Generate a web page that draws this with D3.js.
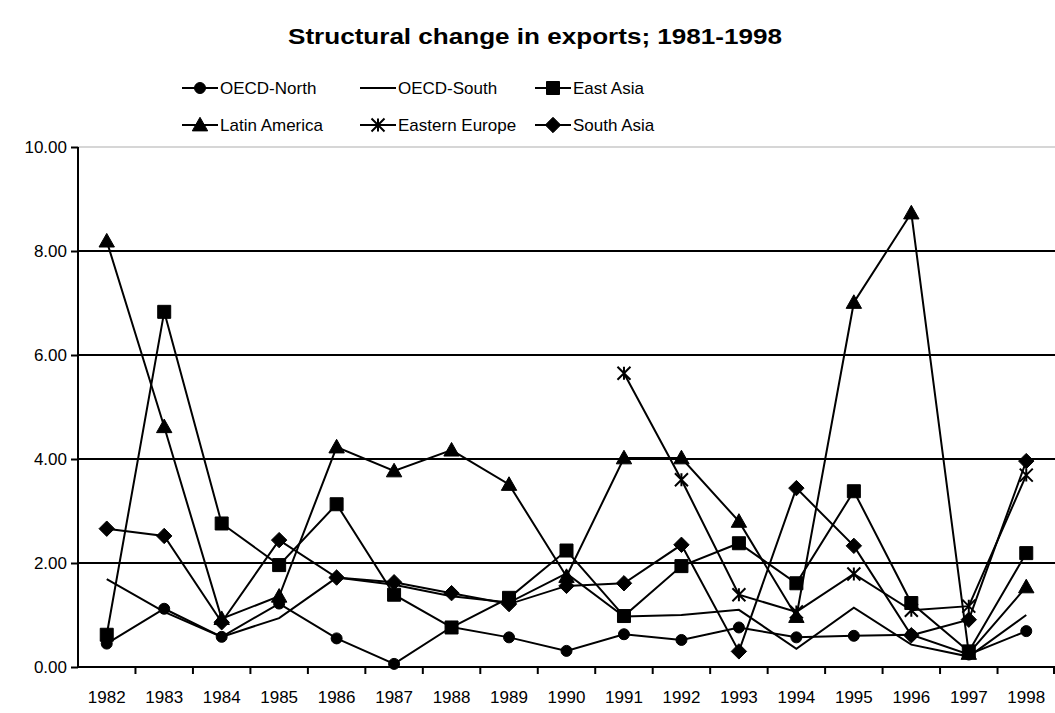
<!DOCTYPE html>
<html>
<head>
<meta charset="utf-8">
<script src="https://cdn.jsdelivr.net/npm/d3@7"></script>
<style>
  body { margin: 0; background: #fff; }
  text { font-family: "Liberation Sans", Arial, sans-serif; fill: #000; }
</style>
</head>
<body>
<div id="chart"></div>
<script>
// data
var years = ["1982","1983","1984","1985","1986","1987","1988","1989","1990",
             "1991","1992","1993","1994","1995","1996","1997","1998"];
var oecdNorth = [0.45,1.12,0.58,1.22,0.55,0.06,0.77,0.57,0.31,0.63,0.52,0.76,0.57,0.60,0.62,0.24,0.69];
var oecdSouth = [1.69,1.06,0.58,0.94,1.72,1.58,1.36,1.24,1.80,0.97,1.00,1.10,0.35,1.14,0.43,0.20,1.00];
var eastAsia  = [0.62,6.83,2.76,1.96,3.13,1.39,0.76,1.33,2.24,0.98,1.94,2.38,1.61,3.38,1.23,0.30,2.19];
var latinAm   = [8.19,4.62,0.93,1.36,4.23,3.77,4.17,3.51,1.74,4.02,4.02,2.80,0.97,7.01,8.73,0.26,1.54];
var eastEur   = [null,null,null,null,null,null,null,null,null,5.65,3.60,1.39,1.06,1.79,1.09,1.17,3.69];
var southAsia = [2.66,2.52,0.86,2.44,1.72,1.63,1.42,1.21,1.56,1.61,2.35,0.30,3.44,2.33,0.61,0.91,3.96];
var seriesNames = ["OECD-North","OECD-South","East Asia","Latin America","Eastern Europe","South Asia"];
var yTicks = [0, 2, 4, 6, 8, 10];

var svgWidth = 1055, svgHeight = 713;
var plotLeft = 78, plotRight = 1055, plotTop = 147, plotBottom = 667;

var svg = d3.select("#chart").append("svg")
  .attr("width", svgWidth)
  .attr("height", svgHeight);

var x = d3.scaleBand().domain(years).range([plotLeft, plotRight]);
var y = d3.scaleLinear().domain([0, 10]).range([plotBottom, plotTop]);

// marker shapes
function markerPath(kind, s) {
  if (kind == "circle") return d3.symbol(d3.symbolCircle, Math.PI * s * s / 4)();
  if (kind == "square") return "M" + (-s/2) + "," + (-s/2) + "h" + s + "v" + s + "h" + (-s) + "Z";
  if (kind == "triangle") return "M0," + (-s*0.55) + "L" + (s*0.55) + "," + (s*0.42) + "L" + (-s*0.55) + "," + (s*0.42) + "Z";
  if (kind == "diamond") return "M0," + (-s*0.55) + "L" + (s*0.55) + ",0L0," + (s*0.55) + "L" + (-s*0.55) + ",0Z";
  if (kind == "star") {
    var h = s / 2;
    return "M0," + (-h) + "V" + h + "M" + (-h) + "," + (-h) + "L" + h + "," + h + "M" + h + "," + (-h) + "L" + (-h) + "," + h;
  }
  return null;
}

var series = [
  {name: seriesNames[0], values: oecdNorth, marker: "circle", size: 11},
  {name: seriesNames[1], values: oecdSouth, marker: "none", size: 0},
  {name: seriesNames[2], values: eastAsia, marker: "square", size: 13},
  {name: seriesNames[3], values: latinAm, marker: "triangle", size: 14},
  {name: seriesNames[4], values: eastEur, marker: "star", size: 13},
  {name: seriesNames[5], values: southAsia, marker: "diamond", size: 14}
];

// title
svg.append("text")
  .attr("x", 535)
  .attr("y", 44)
  .attr("text-anchor", "middle")
  .attr("font-size", "22px")
  .attr("font-weight", "bold")
  .attr("textLength", 494)
  .attr("lengthAdjust", "spacingAndGlyphs")
  .text("Structural change in exports; 1981-1998");

// gridlines
svg.append("g").selectAll("line")
  .data(yTicks.filter(d => d > 0))
  .enter().append("line")
  .attr("x1", plotLeft).attr("x2", plotRight)
  .attr("y1", d => y(d)).attr("y2", d => y(d))
  .attr("stroke", d => d == 10 ? "#c8c8c8" : "#000")
  .attr("stroke-width", d => d == 10 ? 1.5 : 2);

// y axis
var yAxis = svg.append("g")
  .attr("transform", `translate(${plotLeft},0)`)
  .call(d3.axisLeft(y).tickValues(yTicks).tickFormat(d3.format(".2f")).tickSize(7).tickPadding(4));
yAxis.select(".domain").attr("stroke", "#000").attr("stroke-width", 2).attr("d", `M0,${plotTop}V${plotBottom}`);
yAxis.selectAll(".tick line").attr("stroke-width", 2);
yAxis.selectAll("text").attr("font-size", "17px").attr("font-family", "Liberation Sans, Arial, sans-serif");

// x axis
var xAxis = svg.append("g")
  .attr("transform", `translate(0,${plotBottom})`)
  .call(d3.axisBottom(x).tickSize(0).tickPadding(24));
xAxis.select(".domain").attr("stroke", "#000").attr("stroke-width", 2).attr("d", `M${plotLeft},0H${plotRight}`);
xAxis.selectAll("text").attr("font-size", "17px").attr("font-family", "Liberation Sans, Arial, sans-serif");
xAxis.selectAll(".tickmark")
  .data(years.slice(1).concat(["end"]))
  .enter().append("line")
  .attr("class", "tickmark")
  .attr("x1", d => d == "end" ? plotRight - 1 : x(d))
  .attr("x2", d => d == "end" ? plotRight - 1 : x(d))
  .attr("y1", 0).attr("y2", 7)
  .attr("stroke", "#000").attr("stroke-width", 2);

// lines and markers
var line = d3.line()
  .defined(d => d.v != null)
  .x(d => x(d.year) + x.bandwidth() / 2)
  .y(d => y(d.v));

series.forEach(function(s) {
  var pts = years.map((yr, i) => ({year: yr, v: s.values[i]}));
  var g = svg.append("g");
  g.append("path")
    .datum(pts)
    .attr("fill", "none")
    .attr("stroke", "#000")
    .attr("stroke-width", 2)
    .attr("d", line);
  if (s.marker != "none") {
    g.selectAll("path.mk")
      .data(pts.filter(d => d.v != null))
      .enter().append("path")
      .attr("class", "mk")
      .attr("transform", d => `translate(${x(d.year) + x.bandwidth() / 2},${y(d.v)})`)
      .attr("d", markerPath(s.marker, s.size))
      .attr("fill", s.marker == "star" ? "none" : "#000")
      .attr("stroke", "#000")
      .attr("stroke-width", s.marker == "star" ? 2 : 1);
  }
});

// legend
var legendX = [182, 360, 535];
var legendY = [88, 125];
var legend = svg.append("g");
series.forEach(function(s, i) {
  var lx = legendX[i % 3], ly = legendY[Math.floor(i / 3)];
  var item = legend.append("g").attr("transform", `translate(${lx},${ly})`);
  item.append("line")
    .attr("x1", 0).attr("x2", 36)
    .attr("y1", 0).attr("y2", 0)
    .attr("stroke", "#000").attr("stroke-width", 2);
  if (s.marker != "none") {
    item.append("path")
      .attr("transform", "translate(18,0)")
      .attr("d", markerPath(s.marker, s.size))
      .attr("fill", s.marker == "star" ? "none" : "#000")
      .attr("stroke", "#000")
      .attr("stroke-width", s.marker == "star" ? 2 : 1);
  }
  item.append("text")
    .attr("x", 38)
    .attr("y", 0)
    .attr("dy", "0.35em")
    .attr("font-size", "17px")
    .text(s.name);
});
</script>
</body>
</html>
